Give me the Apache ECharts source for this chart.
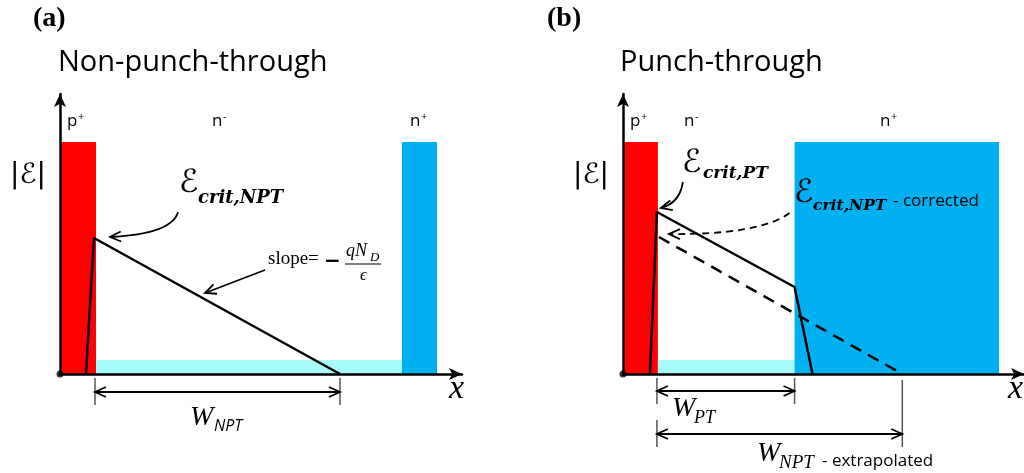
<!DOCTYPE html>
<html><head><meta charset="utf-8">
<script src="https://cdn.jsdelivr.net/npm/echarts@6/dist/echarts.min.js"></script>
<style>html,body{margin:0;padding:0;background:#fff}#c{width:1024px;height:473px}</style>
</head><body><div id="c"></div>
<script>
// ---- data (x: position along device, y: |E| field) ----
// regions: [x0, x1, y0, y1]
const aPplus  = [0, 3.6, 0, 23.2];
const aNminus = [3.6, 34.3, 0, 1.4];
const aNplus  = [34.2, 37.7, 0, 23.2];
const aField  = [[2.6, 0], [3.4, 13.6], [28.0, 0]];

const bPplus  = [0.1, 3.5, 0, 23.2];
const bNminus = [3.5, 17.2, 0, 1.4];
const bNplus  = [17.2, 37.7, 0, 23.2];
const bField  = [[2.7, 0], [3.4, 16.2], [17.2, 8.7], [19.0, 0]];
const bFieldNPT = [[3.6, 13.7], [28.0, 0]];

const origin = [[0, 0]];

// dimension lines: [x1, x2, yArrow, tick1Top, tick1Bottom, tick2Top, tick2Bottom]
const aDims = [[3.5, 28.0, -1.8, -0.4, -3.1, -0.4, -3.1]];
const bDims = [[3.4, 17.2, -1.7, -0.4, -3.0, -0.4, -3.0],
               [3.4, 28.0, -6.0, -4.6, -7.3, -0.6, -7.3]];

// annotation arrows: [x0, y0, ctrlX, ctrlY, x1, y1, dashed]
const aNotes = [[11.8, 16.2, 11.2, 14.0, 5.0, 13.7, 0],
                [20.5, 10.4, 17.5, 9.25, 14.5, 8.1, 0]];
const bNotes = [[6.0, 19.2, 5.7, 17.1, 3.8, 16.6, 0],
                [16.7, 16.1, 13.7, 13.9, 4.6, 14.0, 1]];

const RED = '#ff0000', BLUE = '#00b0f0', CYAN = '#a6fafa';

function rectRender(color) {
  return function (params, api) {
    const p0 = api.coord([api.value(0), api.value(3)]);
    const p1 = api.coord([api.value(1), api.value(2)]);
    return { type: 'rect', shape: { x: p0[0], y: p0[1], width: p1[0] - p0[0], height: p1[1] - p0[1] },
             style: { fill: color } };
  };
}
function chevron(tip, from, len, half) {
  const dx = tip[0] - from[0], dy = tip[1] - from[1];
  const L = Math.hypot(dx, dy) || 1, ux = dx / L, uy = dy / L;
  const bx = tip[0] - ux * len, by = tip[1] - uy * len;
  return { type: 'polyline', shape: { points: [[bx - uy * half, by + ux * half], [tip[0], tip[1]], [bx + uy * half, by - ux * half]] },
           style: { stroke: '#000', lineWidth: 1.8, fill: null } };
}
function dimRender(params, api) {
  const x1 = api.value(0), x2 = api.value(1), ya = api.value(2);
  const a = api.coord([x1, ya]), b = api.coord([x2, ya]);
  const t1a = api.coord([x1, api.value(3)]), t1b = api.coord([x1, api.value(4)]);
  const t2a = api.coord([x2, api.value(5)]), t2b = api.coord([x2, api.value(6)]);
  return { type: 'group', children: [
    { type: 'line', shape: { x1: t1a[0], y1: t1a[1], x2: t1b[0], y2: t1b[1] }, style: { stroke: '#555', lineWidth: 1.5 } },
    { type: 'line', shape: { x1: t2a[0], y1: t2a[1], x2: t2b[0], y2: t2b[1] }, style: { stroke: '#555', lineWidth: 1.5 } },
    { type: 'line', shape: { x1: a[0], y1: a[1], x2: b[0], y2: b[1] }, style: { stroke: '#000', lineWidth: 2 } },
    chevron(a, b, 11, 5), chevron(b, a, 11, 5)
  ] };
}
function noteRender(params, api) {
  const p0 = api.coord([api.value(0), api.value(1)]);
  const c = api.coord([api.value(2), api.value(3)]);
  const p1 = api.coord([api.value(4), api.value(5)]);
  const dashed = api.value(6) > 0;
  return { type: 'group', children: [
    { type: 'bezierCurve', shape: { x1: p0[0], y1: p0[1], cpx1: c[0], cpy1: c[1], x2: p1[0], y2: p1[1] },
      style: { stroke: '#000', lineWidth: 1.8, fill: null, lineDash: dashed ? [7, 5] : null } },
    chevron(p1, c, 11, 5)
  ] };
}

function axisX(gi) {
  return { gridIndex: gi, type: 'value', min: 0, max: 40.2, z: 10,
    axisLine: { show: true, onZero: false, symbol: ['none', 'arrow'], symbolSize: [9, 13], lineStyle: { color: '#000', width: 2.5 } },
    axisTick: { show: false }, axisLabel: { show: false }, splitLine: { show: false } };
}
function axisY(gi) {
  return { gridIndex: gi, type: 'value', min: 0, max: 28, z: 10,
    axisLine: { show: true, onZero: false, symbol: ['none', 'arrow'], symbolSize: [9, 13], lineStyle: { color: '#000', width: 2.5 } },
    axisTick: { show: false }, axisLabel: { show: false }, splitLine: { show: false } };
}
function rectSeries(gi, region, color) {
  return { type: 'custom', xAxisIndex: gi, yAxisIndex: gi, renderItem: rectRender(color), data: [region], z: 1, silent: true };
}
function lineSeries(gi, pts, dashed) {
  return { type: 'line', xAxisIndex: gi, yAxisIndex: gi, data: pts, symbol: 'none', z: 5, silent: true,
    lineStyle: { color: '#000', width: 2.5, type: dashed ? [12, 8] : 'solid' } };
}

// text helper: baseline position
function T(x, baseline, text, family, size, style) {
  return { type: 'text', x: x, y: baseline - 0.33 * size, z: 20,
    style: { text: text, font: (style ? style + ' ' : '') + size + 'px ' + family, fill: '#000', verticalAlign: 'middle', align: 'left' } };
}
const SANS = '"Open Sans"';
const SERIF = '"Liberation Serif"';
const DJS = '"DejaVu Serif"';
const DJ = '"DejaVu Sans"';
const BI = 'italic bold';

const texts = [
  T(33, 28, '(a)', SERIF, 28, 'bold'),
  T(58, 72, 'Non-punch-through', SANS, 29),
  T(10, 185, '|ℰ|', DJ, 28),
  T(67, 127, 'p', SANS, 17), T(78, 120, '+', SANS, 11),
  T(212, 127, 'n', SANS, 17), T(223, 120, '-', SANS, 11),
  T(410, 127, 'n', SANS, 17), T(421, 120, '+', SANS, 11),
  T(179, 194, 'ℰ', DJ, 32), T(198, 204, 'crit,NPT', DJS, 18, BI),
  T(268, 265, 'slope=', SERIF, 19),
  T(324, 268, '−', DJ, 20, 'bold'),
  T(346, 257, 'qN', SERIF, 18, 'italic'), T(370, 262, 'D', SERIF, 13, 'italic'),
  T(360, 281, 'ϵ', SERIF, 17, 'italic'),
  T(190, 427, 'W', SERIF, 28, 'italic'), T(214, 432, 'NPT', SANS, 16, 'italic'),
  T(449, 400, 'x', SERIF, 34, 'italic'),

  T(547, 28, '(b)', SERIF, 28, 'bold'),
  T(620, 72, 'Punch-through', SANS, 29),
  T(573, 185, '|ℰ|', DJ, 28),
  T(630, 127, 'p', SANS, 17), T(641, 120, '+', SANS, 11),
  T(684, 127, 'n', SANS, 17), T(695, 120, '-', SANS, 11),
  T(880, 127, 'n', SANS, 17), T(891, 120, '+', SANS, 11),
  T(682, 174, 'ℰ', DJ, 32), T(703, 179, 'crit,PT', DJS, 17, BI),
  T(794, 204, 'ℰ', DJ, 32), T(813, 211, 'crit,NPT', DJS, 15.5, BI),
  T(893, 207, '- corrected', SANS, 17),
  T(672, 418, 'W', SERIF, 28, 'italic'), T(694, 424, 'PT', SERIF, 18, 'italic'),
  T(757, 463, 'W', SERIF, 28, 'italic'), T(779, 469, 'NPT', SERIF, 19, 'italic'),
  T(822, 467, '- extrapolated', SANS, 17),
  T(1008, 400, 'x', SERIF, 34, 'italic'),
  { type: 'line', z: 20, shape: { x1: 345, y1: 264, x2: 381, y2: 264 }, style: { stroke: '#000', lineWidth: 1.2 } }
];

const chart = echarts.init(document.getElementById('c'), null, { renderer: 'canvas' });
chart.setOption({
  animation: false,
  backgroundColor: '#fff',
  grid: [
    { left: 60, top: 94, width: 402, height: 280 },
    { left: 623, top: 94, width: 402, height: 280 }
  ],
  xAxis: [axisX(0), axisX(1)],
  yAxis: [axisY(0), axisY(1)],
  series: [
    rectSeries(0, aPplus, RED), rectSeries(0, aNminus, CYAN), rectSeries(0, aNplus, BLUE),
    rectSeries(1, bPplus, RED), rectSeries(1, bNminus, CYAN), rectSeries(1, bNplus, BLUE),
    lineSeries(0, aField, false),
    lineSeries(1, bField, false),
    lineSeries(1, bFieldNPT, true),
    { type: 'custom', xAxisIndex: 0, yAxisIndex: 0, renderItem: dimRender, data: aDims, z: 6, silent: true },
    { type: 'custom', xAxisIndex: 1, yAxisIndex: 1, renderItem: dimRender, data: bDims, z: 6, silent: true },
    { type: 'custom', xAxisIndex: 0, yAxisIndex: 0, renderItem: noteRender, data: aNotes, z: 6, silent: true },
    { type: 'custom', xAxisIndex: 1, yAxisIndex: 1, renderItem: noteRender, data: bNotes, z: 6, silent: true },
    { type: 'scatter', xAxisIndex: 0, yAxisIndex: 0, data: origin, symbolSize: 7, itemStyle: { color: '#000' }, z: 12, silent: true },
    { type: 'scatter', xAxisIndex: 1, yAxisIndex: 1, data: origin, symbolSize: 7, itemStyle: { color: '#000' }, z: 12, silent: true }
  ],
  graphic: texts
});
</script>
</body></html>
